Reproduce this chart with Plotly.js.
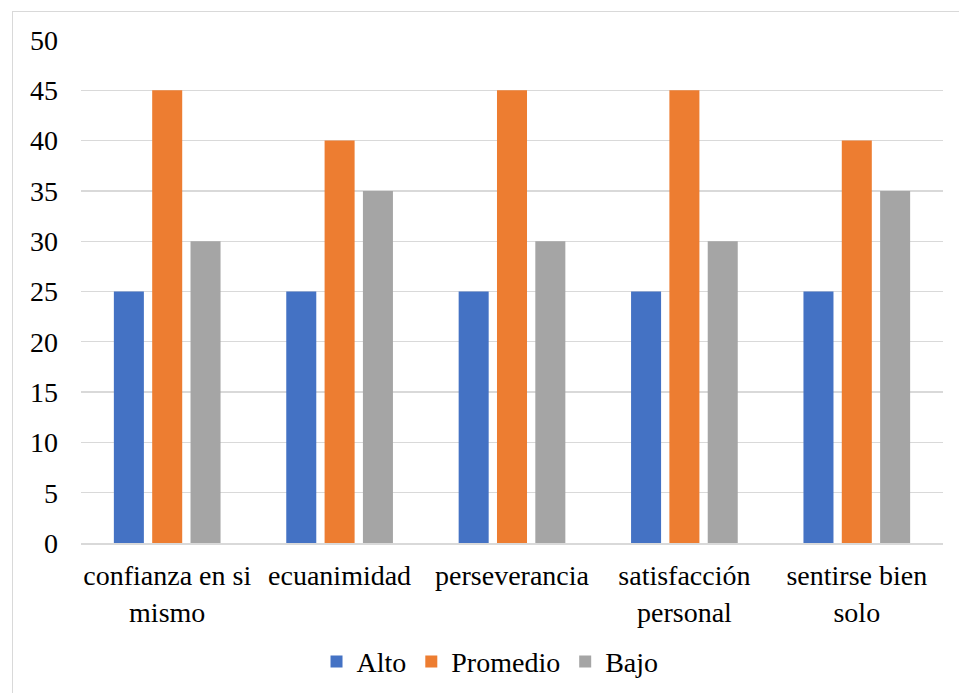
<!DOCTYPE html>
<html>
<head>
<meta charset="utf-8">
<script src="https://cdn.plot.ly/plotly-3.0.1.min.js"></script>
<style>
  html, body { margin: 0; padding: 0; background: #fff; overflow: hidden; }
  #chart { width: 959px; height: 693px; position: relative; }
  #frame {
    position: absolute; left: 12px; top: 11px; width: 960px; height: 700px;
    border-left: 1.5px solid #d9d9d9; border-top: 1.5px solid #d9d9d9;
    pointer-events: none; box-sizing: border-box;
  }
</style>
</head>
<body>
<div id="chart"></div>
<div id="frame"></div>
<script>
// Resilience dimensions and the percentage of respondents per level
const categories = ["confianza en si<br>mismo", "ecuanimidad", "perseverancia", "satisfacción<br>personal", "sentirse bien<br>solo"];
const alto = [25, 25, 25, 25, 25];
const promedio = [45, 40, 45, 45, 40];
const bajo = [30, 35, 30, 30, 35];
const yTicks = [0, 5, 10, 15, 20, 25, 30, 35, 40, 45, 50];

const serif = "Liberation Serif, Tinos, Times New Roman, serif";

const traces = [
  { type: "bar", name: "Alto", x: categories, y: alto, marker: { color: "#4472C4" } },
  { type: "bar", name: "Promedio", x: categories, y: promedio, marker: { color: "#ED7D31" } },
  { type: "bar", name: "Bajo", x: categories, y: bajo, marker: { color: "#A5A5A5" } }
];

const layout = {
  width: 959,
  height: 693,
  margin: { l: 81, r: 16, t: 40, b: 150 },
  paper_bgcolor: "#fff",
  plot_bgcolor: "#fff",
  barmode: "group",
  bargap: 0.333,
  bargroupgap: 0.217,
  font: { family: serif, size: 28, color: "#000" },
  hovermode: false,
  xaxis: {
    type: "category",
    automargin: false,
    showgrid: false,
    showline: true,
    linecolor: "#d9d9d9",
    linewidth: 1.5,
    ticks: "",
    tickangle: 0,
    ticklabelstandoff: 7,
    tickfont: { family: serif, size: 28, color: "#000" }
  },
  yaxis: {
    automargin: false,
    range: [0, 50],
    tickvals: yTicks,
    ticktext: yTicks.map(String),
    showgrid: true,
    gridcolor: "#d9d9d9",
    gridwidth: 1.3,
    zeroline: false,
    showline: false,
    ticks: "",
    ticklabelstandoff: 22,
    tickfont: { family: serif, size: 28, color: "#000" }
  },
  showlegend: true,
  legend: {
    orientation: "h",
    x: 0.4745,
    xanchor: "center",
    yref: "container",
    y: 0.045,
    yanchor: "middle",
    itemgap: 17,
    font: { family: serif, size: 28, color: "#000" },
    itemclick: false,
    itemdoubleclick: false
  }
};

Plotly.newPlot("chart", traces, layout, { displayModeBar: false, staticPlot: true });
</script>
</body>
</html>
